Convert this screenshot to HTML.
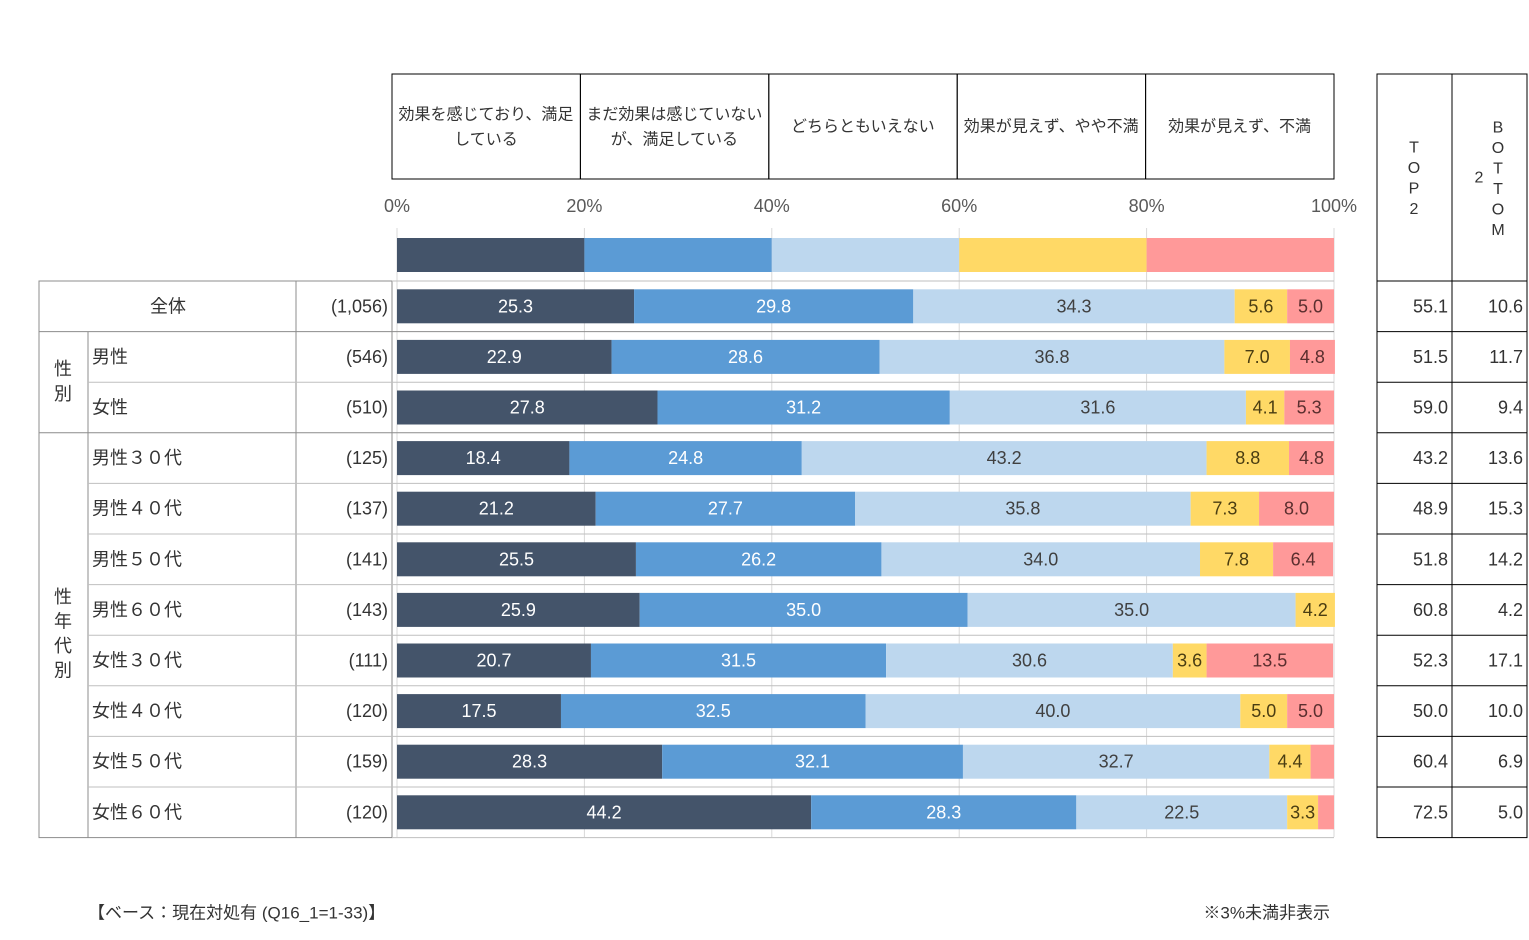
<!DOCTYPE html>
<html><head><meta charset="utf-8">
<style>
body{margin:0;background:#fff;font-family:"Liberation Sans","Noto Sans CJK JP",sans-serif;}
#root{position:relative;width:1529px;height:940px;overflow:hidden;}
</style></head>
<body>
<div id="root">
<svg id="chart" width="1529" height="940" style="position:absolute;left:0;top:0"></svg>
</div>
<script>
const categories=["全体","男性","女性","男性３０代","男性４０代","男性５０代","男性６０代","女性３０代","女性４０代","女性５０代","女性６０代"];
const sampleSizes=["(1,056)","(546)","(510)","(125)","(137)","(141)","(143)","(111)","(120)","(159)","(120)"];
const s1=[25.3,22.9,27.8,18.4,21.2,25.5,25.9,20.7,17.5,28.3,44.2];
const s2=[29.8,28.6,31.2,24.8,27.7,26.2,35.0,31.5,32.5,32.1,28.3];
const s3=[34.3,36.8,31.6,43.2,35.8,34.0,35.0,30.6,40.0,32.7,22.5];
const s4=[5.6,7.0,4.1,8.8,7.3,7.8,4.2,3.6,5.0,4.4,3.3];
const s5=[5.0,4.8,5.3,4.8,8.0,6.4,0.0,13.5,5.0,2.5,1.7];
const top2=["55.1","51.5","59.0","43.2","48.9","51.8","60.8","52.3","50.0","60.4","72.5"];
const bottom2=["10.6","11.7","9.4","13.6","15.3","14.2","4.2","17.1","10.0","6.9","5.0"];
const ticks=[0,20,40,60,80,100];
const seriesNames=["効果を感じており、満足|している","まだ効果は感じていない|が、満足している","どちらともいえない","効果が見えず、やや不満","効果が見えず、不満"];
const colors=["#44546a","#5b9bd5","#bdd7ee","#ffd966","#ff9999"];
const txtColors=["#fff","#fff","#404040","#4a3d12","#5a2e2e"];

const svg=document.getElementById('chart');
const NS="http://www.w3.org/2000/svg";
const X0=397,X1=1334;
const x=v=>X0+(X1-X0)*v/100;
const ROW0=281,RH=50.6;
const rowTop=i=>ROW0+i*RH;
function mk(tag,attrs,parent){const e=document.createElementNS(NS,tag);for(const k in attrs)e.setAttribute(k,attrs[k]);(parent||svg).appendChild(e);return e;}
function txt(s,xx,yy,anchor,fill,size,parent){const e=mk('text',{x:xx,y:yy,'text-anchor':anchor,fill:fill,'font-size':size||18,'dominant-baseline':'central','font-family':'Liberation Sans, Noto Sans CJK JP, sans-serif'},parent);e.textContent=s;return e;}

const hg=mk('g',{});


seriesNames.forEach((n,i)=>{
 const bx=392+i*188.4;
 mk('rect',{x:bx,y:74,width:188.4,height:105,fill:'none',stroke:'#000','stroke-width':1},hg);
 const parts=n.split('|');
 const g=mk('g',{},hg);
 
 
 if(parts.length==2){txt(parts[0],bx+94,115,'middle','#333',16,g);txt(parts[1],bx+94,140,'middle','#333',16,g);}
 else txt(parts[0],bx+94,127,'middle','#333',16,g);
});
ticks.forEach(t=>{
 const l=mk('line',{x1:x(t),x2:x(t),y1:228,y2:837,stroke:'#d9d9d9','stroke-width':1});
 
 
 const tl=txt(t+'%',x(t),206,'middle','#595959',18);
 
 
});
colors.forEach((c,i)=>{const r=mk('rect',{x:x(i*20),y:238,width:x(20)-x(0),height:34,fill:c});
 
 });

const lt=mk('g',{});


const gs='#8c8c8c';
mk('rect',{x:39,y:ROW0,width:353,height:RH*11,fill:'none',stroke:gs},lt);
mk('line',{x1:296,x2:296,y1:ROW0,y2:rowTop(11),stroke:gs},lt);
mk('line',{x1:88,x2:88,y1:rowTop(1),y2:rowTop(11),stroke:gs},lt);
for(let i=1;i<11;i++){
 mk('line',{x1:(i==1||i==3)?39:88,x2:X1,y1:rowTop(i),y2:rowTop(i),stroke:(i==1||i==3)?gs:'#bfbfbf'},lt);
}
mk('line',{x1:392,x2:X1,y1:ROW0,y2:ROW0,stroke:'#bfbfbf'},lt);
mk('line',{x1:392,x2:X1,y1:rowTop(11),y2:rowTop(11),stroke:'#bfbfbf'},lt);
txt('性',63,369,'middle','#333',18,lt);txt('別',63,394,'middle','#333',18,lt);
['性','年','代','別'].forEach((c,k)=>txt(c,63,597+k*24.5,'middle','#333',18,lt));

const rt=mk('g',{});


mk('rect',{x:1377,y:74,width:150,height:rowTop(11)-74,fill:'none',stroke:'#000'},rt);
mk('line',{x1:1452,x2:1452,y1:74,y2:rowTop(11),stroke:'#000'},rt);
for(let i=0;i<11;i++)mk('line',{x1:1377,x2:1527,y1:rowTop(i),y2:rowTop(i),stroke:'#000'},rt);
['T','O','P','2'].forEach((c,k)=>txt(c,1414,148+k*20.5,'middle','#333',16,rt));
['B','O','T','T','O','M'].forEach((c,k)=>txt(c,1498,128+k*20.5,'middle','#333',16,rt));
txt('2',1479,178,'middle','#333',16,rt);

const series=[s1,s2,s3,s4,s5];
categories.forEach((cat,i)=>{
 const cy=rowTop(i)+RH/2;
 const cl=txt(cat,i==0?168:92,cy,i==0?'middle':'start','#333',18);
 
 
 const nl=txt(sampleSizes[i],388,cy,'end','#333',18);
 
 
 let a=0;
 series.forEach((s,k)=>{
  const v=s[i];
  if(v<=0)return;
  const r=mk('rect',{x:x(a),y:cy-17,width:x(a+v)-x(a),height:34,fill:colors[k]});
  
  
  if(v>=3){const l=txt(v.toFixed(1),(x(a)+x(a+v))/2,cy,'middle',txtColors[k],18);
   
   }
  a+=v;
 });
 const t2=txt(top2[i],1448,cy,'end','#333',18);
 
 
 const b2=txt(bottom2[i],1523,cy,'end','#333',18);
 
 
});
const f1=txt('【ベース：現在対処有 (Q16_1=1-33)】',88,913,'start','#333',17);


const f2=txt('※3%未満非表示',1330,913,'end','#333',17);


</script>
</body></html>
